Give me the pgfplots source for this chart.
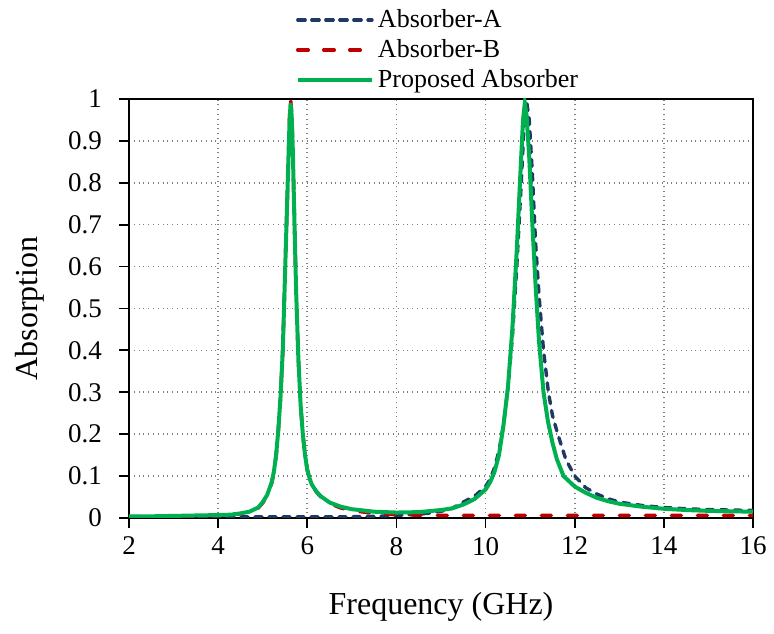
\documentclass[border=0pt]{standalone}
\usepackage{pgfplots}
\pgfplotsset{compat=1.18}
\usepackage{fontspec}
\setmainfont{Liberation Serif}
\setsansfont{Liberation Serif}
\usetikzlibrary{calc}
\definecolor{navyA}{HTML}{1F3864}
\definecolor{redB}{HTML}{C00000}
\definecolor{greenP}{HTML}{00B050}
\begin{document}
\begin{tikzpicture}
\begin{axis}[
  name=ax,
  scale only axis,
  width=312pt, height=209.5pt,
  xmin=2, xmax=16, ymin=0, ymax=1,
  xtick={2,4,...,16},
  xticklabels={2,4,6,8,10,12,14,16},
  ytick={0,0.1,0.2,0.3,0.4,0.5,0.6,0.7,0.8,0.9,1},
  yticklabels={0,0.1,0.2,0.3,0.4,0.5,0.6,0.7,0.8,0.9,1},
  /pgf/number format/assume math mode=true,
  tick label style={font=\rmfamily\fontsize{13.5}{16}\selectfont},
  yticklabel style={xshift=-5pt},
  xticklabel style={yshift=-1pt},
  label style={font=\rmfamily\fontsize{16}{19}\selectfont},
  xlabel={Frequency (GHz)},
  ylabel={Absorption},
  xlabel style={at={(axis description cs:0.5,-0.212)}, anchor=center},
  ylabel style={at={(axis description cs:-0.1587,0.5)}, anchor=center, rotate=0},
  tick align=outside,
  tick pos=left,
  major tick length=5pt,
  every tick/.style={black, line width=0.9pt},
  axis line style={line width=0.9pt},
  grid=major,
  major grid style={gray, dotted, line width=0.8pt},
  legend style={at={(axis description cs:0.5,1)}, anchor=south, yshift=1pt, xshift=-1pt,
    draw=none, fill=none, font=\rmfamily\fontsize{13}{15.6}\selectfont, row sep=0.5pt,
    cells={anchor=west}, inner sep=1pt},
  legend image code/.code={\draw[#1] (0pt,0pt) -- (35pt,0pt); \path (0pt,0pt) -- (37pt,0pt);},
]
% Absorber-A
\addplot[navyA, line width=1.7pt, dash pattern=on 3.5pt off 3.5pt, line cap=round] coordinates {
(2.0,0.002) (3.0,0.002) (4.0,0.002) (5.0,0.003) (6.0,0.003) (7.0,0.003) (7.5,0.004)
(8.0,0.006) (8.5,0.009) (8.75,0.012) (9.0,0.016) (9.25,0.023) (9.5,0.038) (9.75,0.052)
(10.0,0.075) (10.1,0.092) (10.2,0.12) (10.3,0.16) (10.4,0.22) (10.5,0.31) (10.6,0.43)
(10.7,0.60) (10.8,0.80) (10.86,0.93) (10.92,0.995) (10.98,0.95) (11.05,0.82) (11.12,0.66)
(11.2,0.53) (11.3,0.40) (11.41,0.30) (11.5,0.245) (11.62,0.20) (11.8,0.14) (12.0,0.10)
(12.25,0.072) (12.5,0.057) (12.75,0.046) (13.0,0.038) (13.25,0.034) (13.5,0.030)
(14.0,0.025) (14.5,0.022) (15.0,0.020) (15.5,0.019) (16.0,0.018)
};
\addlegendentry{Absorber-A}
% Absorber-B
\addplot[redB, line width=1.8pt, dash pattern=on 5pt off 8pt, line cap=round] coordinates {
(2.0,0.003) (3.0,0.004) (4.0,0.006) (4.3,0.008) (4.5,0.010) (4.7,0.014) (4.9,0.024)
(5.0,0.036) (5.1,0.053) (5.2,0.083) (5.25,0.108) (5.3,0.148) (5.35,0.21) (5.4,0.29)
(5.45,0.40) (5.5,0.58) (5.55,0.76) (5.58,0.87) (5.6,0.95) (5.625,1.0) (5.65,0.965)
(5.675,0.885) (5.7,0.765) (5.75,0.54) (5.8,0.38) (5.85,0.27) (5.9,0.20) (5.95,0.15)
(6.0,0.115) (6.05,0.095) (6.1,0.08) (6.2,0.063) (6.3,0.051) (6.5,0.035) (6.75,0.024)
(7.0,0.018) (7.5,0.011) (8.0,0.008) (9.0,0.006) (10.0,0.006) (11.0,0.006) (12.0,0.006)
(13.0,0.006) (14.0,0.006) (15.0,0.006) (16.0,0.006)
};
\addlegendentry{Absorber-B}
% Proposed
\addplot[greenP, line width=2pt] coordinates {
(2.0,0.004) (2.5,0.004) (3.0,0.005) (3.5,0.006) (4.0,0.007) (4.3,0.008) (4.5,0.011)
(4.7,0.015) (4.9,0.025) (5.0,0.038) (5.1,0.055) (5.2,0.085) (5.25,0.11) (5.3,0.15)
(5.35,0.21) (5.4,0.29) (5.45,0.40) (5.5,0.58) (5.55,0.76) (5.58,0.87) (5.6,0.94)
(5.625,0.99) (5.65,0.96) (5.675,0.88) (5.7,0.76) (5.75,0.54) (5.8,0.38) (5.85,0.27)
(5.9,0.20) (5.95,0.15) (6.0,0.115) (6.05,0.095) (6.1,0.08) (6.2,0.064) (6.3,0.052)
(6.5,0.037) (6.75,0.027) (7.0,0.021) (7.5,0.015) (8.0,0.013) (8.5,0.014) (9.0,0.019)
(9.25,0.023) (9.5,0.032) (9.75,0.045) (10.0,0.068) (10.1,0.085) (10.2,0.11) (10.3,0.15)
(10.4,0.22) (10.5,0.31) (10.6,0.45) (10.7,0.64) (10.78,0.82) (10.84,0.95) (10.88,0.99)
(10.92,0.96) (10.98,0.86) (11.05,0.70) (11.13,0.54) (11.2,0.42) (11.3,0.30) (11.4,0.23)
(11.5,0.18) (11.6,0.14) (11.75,0.10) (11.9,0.085) (12.0,0.075) (12.25,0.06) (12.5,0.048)
(12.75,0.04) (13.0,0.034) (13.5,0.027) (14.0,0.022) (14.5,0.019) (15.0,0.017)
(15.5,0.016) (16.0,0.015)
};
\addlegendentry{Proposed Absorber}
\end{axis}
\pgfresetboundingbox
\path[use as bounding box] ($(ax.south west)+(-64.5pt,-58pt)$) rectangle ($(ax.north east)+(10.5pt,49.5pt)$);
\end{tikzpicture}
\end{document}
